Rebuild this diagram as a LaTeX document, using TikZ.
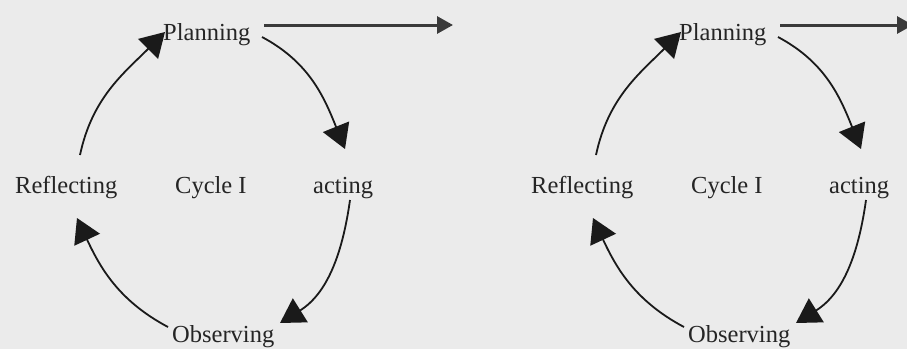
\documentclass[tikz,border=0pt]{standalone}
\usepackage{fontspec}
\setmainfont{Liberation Serif}
\usetikzlibrary{arrows.meta}
\definecolor{bg}{HTML}{EBEBEB}
\definecolor{ink}{HTML}{1A1A1A}
\definecolor{txt}{HTML}{252525}
\definecolor{hline}{HTML}{3A3A3A}
\begin{document}
\begin{tikzpicture}[x=1pt,y=-1pt,
  lbl/.style={anchor=base west, inner sep=0pt, text=txt, font=\fontsize{24.5}{28}\selectfont},
  cyc/.style={draw=ink, line width=1.8pt, -{Triangle[length=24pt,width=28pt]}},
  outarrow/.style={draw=hline, line width=3pt, -{Triangle[length=16pt,width=17pt]}}]
\fill[bg] (0,0) rectangle (907,349);
\useasboundingbox (0,0) rectangle (907,349);
\foreach \c/\dx/\ex in {1/0/453,2/516/397}{
  \begin{scope}[xshift=\dx]
    \node[lbl] (P\c) at (163,40) {Planning};
    \node[lbl] (R\c) at (15,193) {Reflecting};
    \node[lbl] (C\c) at (175,193) {Cycle I};
    \node[lbl] (A\c) at (313,193) {acting};
    \node[lbl] (O\c) at (172,342) {Observing};
    % arrow end points
    \coordinate (rp1\c) at (80,155);
    \coordinate (rp2\c) at (165,32);
    \coordinate (pa1\c) at (262,37);
    \coordinate (pa2\c) at (345,149);
    \coordinate (ao1\c) at (350,200);
    \coordinate (ao2\c) at (280,323);
    \coordinate (or1\c) at (168,327);
    \coordinate (or2\c) at (77,218);
    \coordinate (h1\c) at (264,25);
    \coordinate (h2\c) at (\ex,25);
    \draw[cyc] (rp1\c) to[out=78,in=225] (rp2\c);
    \draw[cyc] (pa1\c) to[out=-28,in=112] (pa2\c);
    \draw[cyc] (ao1\c) to[out=-98,in=32] (ao2\c);
    \draw[cyc] (or1\c) to[out=152,in=295] (or2\c);
    \draw[outarrow] (h1\c) -- (h2\c);
  \end{scope}
}
\end{tikzpicture}
\end{document}
